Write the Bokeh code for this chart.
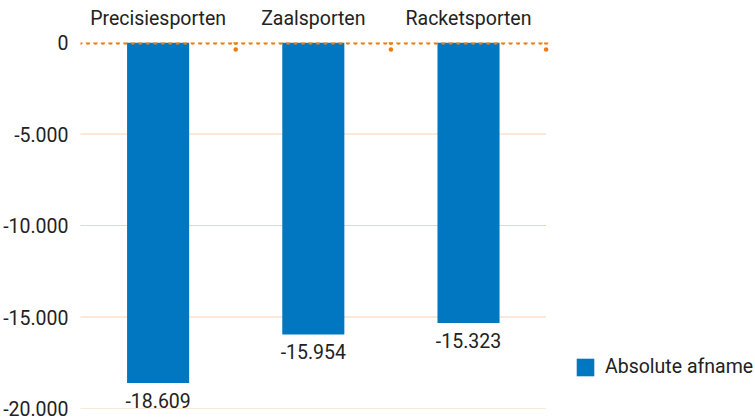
import numpy as np
from bokeh.plotting import figure
from bokeh.models import (ColumnDataSource, Range1d, FixedTicker,
                          LabelSet, Legend, LegendItem, CustomJSTickFormatter)
from bokeh.core.properties import value
from bokeh.embed import file_html
from bokeh.resources import INLINE

categories = ["Precisiesporten", "Zaalsporten", "Racketsporten"]
values = [-18609, -15954, -15323]
y_ticks = [0, -5000, -10000, -15000, -20000]
series_name = "Absolute afname"

FONT = "Roboto"
FS = "19.5px"
TEXT = "#222222"
BLUE = "#0077c0"
ORANGE = "#ef7a0a"
GRID = "#f2a259"

W, H = 755, 420
LEFT, RIGHT, TOP, BOTTOM = 78, 0, 42, 12
CAT_AREA_RIGHT = 545  # pixel where the category area ends
DOT_STEP_PX = 7.5

def fmt(v):
    return f"{v:,}".replace(",", ".")

xi = list(range(len(categories)))
src = ColumnDataSource(dict(x=xi, val=values, lab=[fmt(v) for v in values]))

n = len(categories)
frame_w = W - LEFT - RIGHT
cat_w = CAT_AREA_RIGHT - LEFT
px_per_unit = cat_w / n
x_start = -0.5
x_end = x_start + frame_w / px_per_unit

p = figure(width=W, height=H, output_backend="svg", toolbar_location=None,
           x_range=Range1d(x_start, x_end), y_range=Range1d(min(y_ticks), max(y_ticks)),
           x_axis_location="above", min_border_left=LEFT, min_border_right=RIGHT,
           min_border_top=TOP, min_border_bottom=BOTTOM)
p.outline_line_color = None
p.background_fill_color = None
p.border_fill_color = "white"
p.grid.grid_line_color = None

# grid lines limited to the category area
gy = y_ticks[1:]
p.segment(x0=[x_start] * len(gy), x1=[x_start + n] * len(gy), y0=gy, y1=gy,
          line_color=GRID, line_width=1, line_dash="1 1")

bars = p.vbar(x="x", top="val", bottom=0, width=0.4, source=src,
              fill_color=BLUE, line_color=None)

# axes
p.xaxis.ticker = FixedTicker(ticks=xi)
p.xaxis.major_label_overrides = {i: c for i, c in zip(xi, categories)}
p.xaxis.axis_line_color = None
p.xaxis.major_tick_line_color = None
p.xaxis.minor_tick_line_color = None
p.xaxis.major_label_text_font = FONT
p.xaxis.major_label_text_font_size = FS
p.xaxis.major_label_text_color = TEXT
p.xaxis.major_label_standoff = 7

p.yaxis.axis_line_color = None
p.yaxis.major_tick_line_color = None
p.yaxis.minor_tick_line_color = None
p.yaxis.ticker = FixedTicker(ticks=y_ticks)
p.yaxis.formatter = CustomJSTickFormatter(code="""
    const s = Math.abs(tick).toLocaleString('en-US').replace(/,/g, '.');
    return (tick < 0 ? '-' : '') + s;
""")
p.yaxis.major_label_text_font = FONT
p.yaxis.major_label_text_font_size = FS
p.yaxis.major_label_text_color = TEXT
p.yaxis.major_label_standoff = 6

# zero line: dotted, drawn per category from its left edge
step = DOT_STEP_PX / px_per_unit
per_cat = np.arange(0, 1 - 1e-9, step)
zx = np.concatenate([i - 0.5 + per_cat for i in xi])
p.scatter(x=zx, y=np.zeros_like(zx), size=4.5, marker="circle",
          fill_color=ORANGE, line_color=None)

# boundary tick dots hanging from the zero line
span_y = max(y_ticks) - min(y_ticks)
tick_len = 0.019 * span_y
bx = [i + 0.5 for i in xi]
p.scatter(x=bx + bx, y=[0] * n + [-tick_len] * n, size=4.5, marker="circle",
          fill_color=ORANGE, line_color=None)

# value labels
labels = LabelSet(x="x", y="val", text="lab", source=src, text_align="center",
                  text_baseline="top", y_offset=-10, text_font=value(FONT),
                  text_font_size=value(FS), text_color=TEXT)
p.add_layout(labels)

legend = Legend(items=[LegendItem(label=series_name, renderers=[bars])],
                location=(494, 30), orientation="vertical",
                glyph_width=22, glyph_height=22, label_text_font=FONT,
                label_text_font_size=FS, label_text_color=TEXT,
                label_standoff=9, padding=0, margin=0, spacing=0,
                border_line_color=None, background_fill_alpha=0)
p.add_layout(legend)

open("out.html", "w").write(file_html(p, INLINE))
